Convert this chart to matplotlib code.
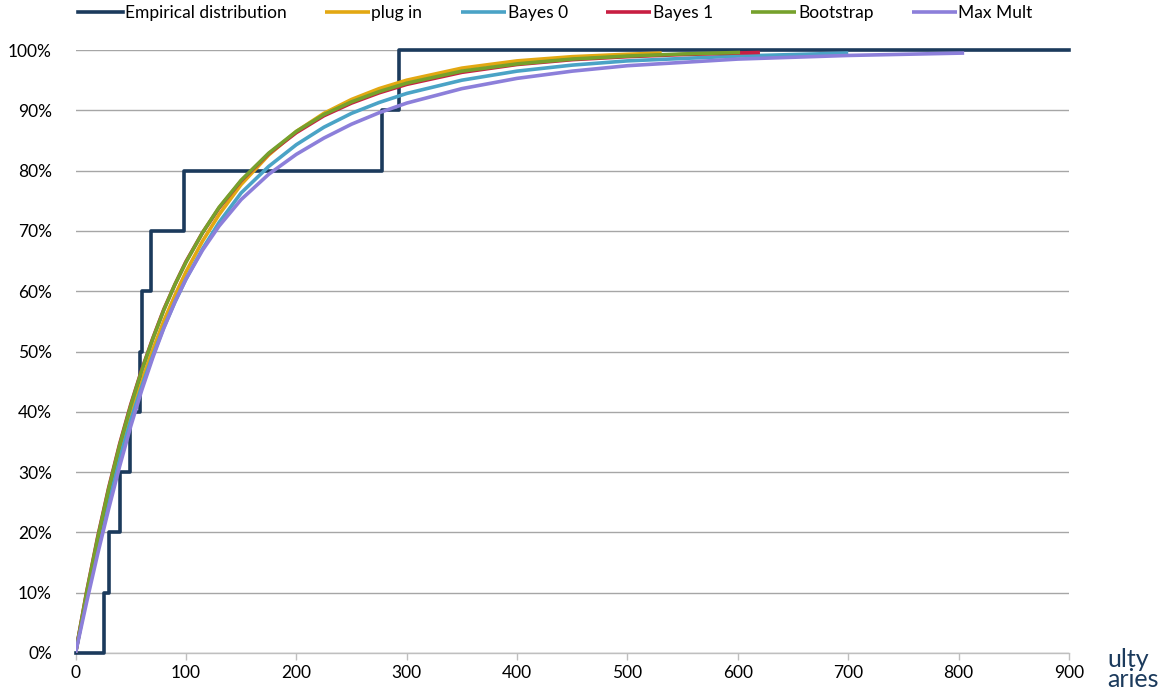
import matplotlib
matplotlib.use("Agg")
import matplotlib.pyplot as plt
from matplotlib.ticker import FuncFormatter, MultipleLocator

plt.rcParams['font.family'] = ['Lato', 'DejaVu Sans']

# Empirical distribution: jump points (each jump = +10%)
emp_jumps = [26, 30, 40, 49, 58, 60, 68, 98, 278, 293]
emp_levels = [0.1, 0.2, 0.3, 0.4, 0.5, 0.6, 0.7, 0.8, 0.9, 1.0]

# Fitted curves (x, cumulative %)
plug_x = [0, 10, 20, 30, 40, 50, 60, 70, 80, 90, 100, 115, 130, 150, 175, 200, 225, 250, 275, 300,
          350, 400, 450, 500, 531]
plug_y = [0, 9.5, 18.1, 25.9, 33.0, 39.3, 45.1, 50.3, 55.1, 59.3, 63.2, 68.3, 72.7, 77.7, 82.6, 86.5,
          89.5, 91.8, 93.6, 95.0, 97.0, 98.2, 98.9, 99.3, 99.5]

b0_x = [0, 10, 20, 30, 40, 50, 60, 70, 80, 90, 100, 115, 130, 150, 175, 200, 225, 250, 275, 300,
        350, 400, 450, 500, 600, 700]
b0_y = [0, 9.3, 17.8, 25.5, 32.4, 38.6, 44.2, 49.3, 54.0, 58.2, 62.0, 67.0, 71.4, 76.3, 80.7, 84.3,
        87.2, 89.5, 91.3, 92.8, 95.0, 96.5, 97.5, 98.2, 99.0, 99.5]

b1_x = [0, 10, 20, 30, 40, 50, 60, 70, 80, 90, 100, 115, 130, 150, 175, 200, 225, 250, 275, 300,
        350, 400, 450, 500, 550, 600, 620]
b1_y = [0, 10.1, 19.2, 27.4, 34.7, 41.2, 47.0, 52.2, 57.0, 61.1, 64.9, 69.7, 73.8, 78.3, 82.8, 86.3,
        89.1, 91.2, 92.9, 94.3, 96.3, 97.6, 98.4, 98.9, 99.25, 99.5, 99.6]

boot_x = [0, 10, 20, 30, 40, 50, 60, 70, 80, 90, 100, 115, 130, 150, 175, 200, 225, 250, 275, 300,
          350, 400, 450, 500, 550, 602]
boot_y = [0, 10.0, 19.0, 27.2, 34.5, 41.0, 46.9, 52.1, 56.9, 61.1, 64.8, 69.7, 73.9, 78.4, 82.9, 86.5,
          89.3, 91.4, 93.1, 94.5, 96.5, 97.7, 98.5, 99.0, 99.35, 99.6]

mm_x = [0, 10, 20, 30, 40, 50, 60, 70, 80, 90, 100, 115, 130, 150, 175, 200, 225, 250, 275, 300,
        350, 400, 450, 500, 600, 700, 805]
mm_y = [0, 8.4, 16.4, 23.9, 31.0, 37.6, 43.6, 49.0, 53.9, 58.2, 62.0, 66.8, 70.8, 75.2, 79.4, 82.7,
        85.4, 87.7, 89.6, 91.2, 93.6, 95.3, 96.5, 97.4, 98.5, 99.1, 99.5]

x_max = 900

fig = plt.figure(figsize=(11.64, 6.91), dpi=100)
ax = fig.add_axes([0.0649, 0.055, 0.8535, 0.8726])

c_emp = '#1B3A5C'
c_plug = '#E3A812'
c_b0 = '#4AA3C6'
c_b1 = '#C81E42'
c_boot = '#76A12C'
c_mm = '#8C7FDA'

ex = [0] + emp_jumps + [x_max]
ey = [0] + emp_levels + [1.0]
ax.step(ex, ey, where='post', color=c_emp, lw=2.6, label='Empirical distribution',
        clip_on=False, zorder=3)

lw = 2.6
kw = dict(lw=lw, solid_capstyle='butt', solid_joinstyle='round')
ax.plot(plug_x, [v / 100 for v in plug_y], color=c_plug, label='plug in', zorder=4, **kw)
ax.plot(b0_x, [v / 100 for v in b0_y], color=c_b0, label='Bayes 0', zorder=5, **kw)
ax.plot(b1_x, [v / 100 for v in b1_y], color=c_b1, label='Bayes 1', zorder=6, **kw)
ax.plot(boot_x, [v / 100 for v in boot_y], color=c_boot, label='Bootstrap', zorder=7, **kw)
ax.plot(mm_x, [v / 100 for v in mm_y], color=c_mm, label='Max Mult', zorder=8, **kw)

ax.set_xlim(0, x_max)
ax.set_ylim(0, 1.0)
ax.xaxis.set_major_locator(MultipleLocator(100))
ax.yaxis.set_major_locator(MultipleLocator(0.1))
ax.yaxis.set_major_formatter(FuncFormatter(lambda v, p: f"{int(round(v * 100))}%"))

ax.grid(axis='y', color='#A6A6A6', lw=1.0)
ax.set_axisbelow(True)
for s in ['top', 'right', 'left']:
    ax.spines[s].set_visible(False)
ax.spines['bottom'].set_color('#BFBFBF')
ax.spines['bottom'].set_linewidth(1.0)
ax.tick_params(axis='x', colors='#BFBFBF', length=5, width=1, labelcolor='black',
               labelsize=12.5, pad=4)
ax.tick_params(axis='y', length=0, labelsize=12.5, pad=17)

fig.legend(loc='center', bbox_to_anchor=(0.477, 0.981), ncol=6, frameon=False,
           fontsize=12.5, handlelength=2.6, handletextpad=0.1, columnspacing=2.2)

fig.text(0.951, 0.046, 'ulty', color='#1B3A5C', fontsize=18, ha='left', va='center')
fig.text(0.951, 0.016, 'aries', color='#1B3A5C', fontsize=18, ha='left', va='center')

fig.savefig('out.png', dpi=100)
